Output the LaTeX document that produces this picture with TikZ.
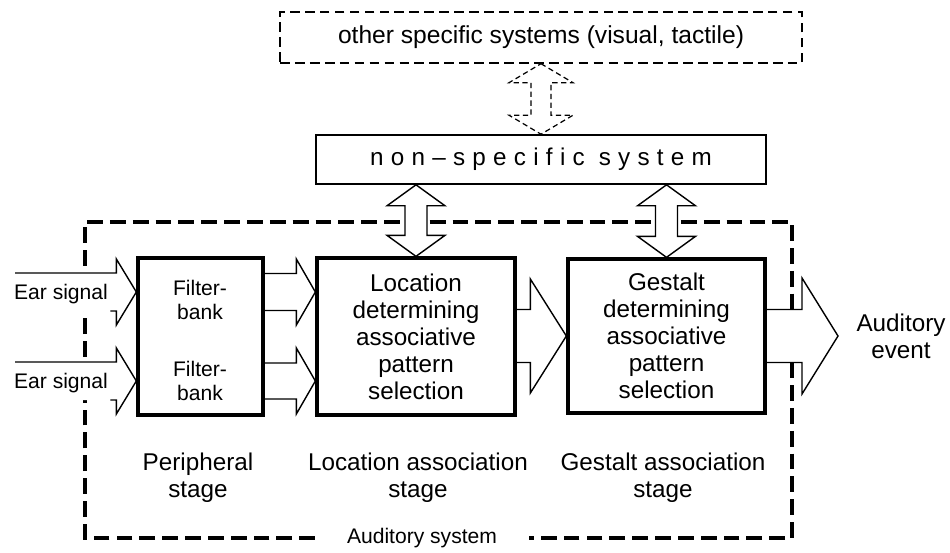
\documentclass[tikz,border=0pt]{standalone}
\usepackage{fontspec}
\setmainfont{Liberation Sans}
\usepackage{tikz}
\usetikzlibrary{calc,positioning,backgrounds}

\newcommand{\boxfont}{\fontsize{13.8}{15.4}\selectfont}
\newcommand{\topfont}{\fontsize{14}{16}\selectfont}
\newcommand{\smallfont}{\fontsize{12}{13.6}\selectfont}

% fat double arrow: #1 style, #2 top tip, #3 bottom tip, #4 head half width, #5 shaft half width, #6 head length
\newcommand{\fatdarrow}[6]{%
  \draw[#1] (#2) -- ($(#2)+(#4,#6)$) -- ($(#2)+(#5,#6)$) -- ($(#3)+(#5,-#6)$) -- ($(#3)+(#4,-#6)$) -- (#3)
    -- ($(#3)+(-#4,-#6)$) -- ($(#3)+(-#5,-#6)$) -- ($(#2)+(-#5,#6)$) -- ($(#2)+(-#4,#6)$) -- cycle;}
% fat arrow: #1 style, #2 start, #3 tip, #4 head half width, #5 shaft half width, #6 head length
\newcommand{\fatarrow}[6]{%
  \draw[#1] ($(#2)+(0,-#5)$) -- ($(#3)+(-#6,-#5)$) -- ($(#3)+(-#6,-#4)$) -- (#3)
    -- ($(#3)+(-#6,#4)$) -- ($(#3)+(-#6,#5)$) -- ($(#2)+(0,#5)$);}
% input arrow, no lower shaft line
\newcommand{\earrow}[5]{%
  \fill[white] ($(#1)+(0,-#4)$) -- ($(#2)+(-#5,-#4)$) -- ($(#2)+(-#5,-#3)$) -- (#2)
    -- ($(#2)+(-#5,#3)$) -- ($(#2)+(-#5,#4)$) -- ($(#1)+(0,#4)$) -- cycle;
  \draw[blockarrow] ($(#1)+(0,-#4)$) -- ($(#2)+(-#5,-#4)$) -- ($(#2)+(-#5,-#3)$) -- (#2)
    -- ($(#2)+(-#5,#3)$) -- ($(#2)+(-#5,#4)$) -- ++(-6,0);}

\begin{document}
\begin{tikzpicture}[x=0.02cm, y=-0.02cm,
    stagebox/.style={draw=black, line width=1.9pt, fill=white, inner sep=0pt, align=center, font=\boxfont},
    sysbox/.style={draw=black, line width=0.9pt, fill=white, inner sep=0pt, font=\boxfont},
    otherbox/.style={draw=black, line width=0.8pt, dash pattern=on 5.5pt off 3pt, inner sep=0pt, font=\topfont},
    plaintext/.style={align=center, inner sep=0pt, font=\boxfont},
    smalltext/.style={align=center, inner sep=0pt, font=\smallfont},
    sysframe/.style={line width=2pt, dash pattern=on 9pt off 4pt},
    blockarrow/.style={draw=black, line width=0.8pt, fill=white, line join=miter},
    dasharrow/.style={draw=black, line width=0.7pt, dash pattern=on 3pt off 2pt}
  ]
  \useasboundingbox (0,0) rectangle (950,552);

  % Upper systems
  \node[otherbox, minimum width=10.44cm, minimum height=1.02cm] (other) at (541,37.5) {other specific systems (visual, tactile)};
  \node[sysbox, minimum width=9cm, minimum height=0.98cm] (nonspec) at (541,159.5) {\addfontfeature{LetterSpace=30}non–specific system};

  % Stages
  \node[stagebox, minimum width=2.5cm, minimum height=3.14cm] (filt) at (200.5,336.5) {};
  \node[stagebox, minimum width=3.96cm, minimum height=3.14cm] (loc) at (416,336.5) {Location\\determining\\associative\\pattern\\selection};
  \node[stagebox, minimum width=3.94cm, minimum height=3.08cm] (ges) at (666.5,336) {Gestalt\\determining\\associative\\pattern\\selection};
  \node[smalltext] (fb1) at (200,300) {Filter-\\bank};
  \node[smalltext] (fb2) at (200,381) {Filter-\\bank};

  % Texts
  \node[smalltext] (ear1) at (61,294) {Ear signal};
  \node[smalltext] (ear2) at (61,383) {Ear signal};
  \node[plaintext] (event) at (901,336) {Auditory\\event};
  \node[plaintext] (periph) at (198,478) {Peripheral\\stage};
  \node[plaintext] (locstage) at (418,478) {Location association\\stage};
  \node[plaintext] (gesstage) at (663,478) {Gestalt association\\stage};
  \node[smalltext, inner xsep=18pt, fill=white] (audsys) at (422,538) {Auditory system};

  \coordinate (sysnw) at (85,222);
  \coordinate (sysse) at (792,538);
  \coordinate (row1) at (15,292);
  \coordinate (row2) at (15,381);
  \coordinate (out) at (838,336);

  \begin{scope}[on background layer]
    % Auditory system frame
    \draw[sysframe] (audsys.west) -| (sysnw) -| (sysse) -- (audsys.east);

    % Arrows
    \fatdarrow{dasharrow}{other.south}{nonspec.north}{32}{10}{19}
    \coordinate (t1) at (nonspec.south -| loc.north);
    \coordinate (t2) at (nonspec.south -| ges.north);
    \fatdarrow{blockarrow}{t1}{loc.north}{29}{11}{21}
    \fatdarrow{blockarrow}{t2}{ges.north}{29}{11}{21}
    \earrow{row1}{filt.west |- row1}{33}{19}{20}
    \earrow{row2}{filt.west |- row2}{33}{19}{20}
    \fatarrow{blockarrow}{filt.east |- row1}{loc.west |- row1}{33}{18.5}{19}
    \fatarrow{blockarrow}{filt.east |- row2}{loc.west |- row2}{33}{18}{19}
    \fatarrow{blockarrow}{loc.east |- out}{ges.west |- out}{57}{26.5}{36}
    \fatarrow{blockarrow}{ges.east |- out}{out}{58}{26.5}{36}
  \end{scope}
\end{tikzpicture}
\end{document}
